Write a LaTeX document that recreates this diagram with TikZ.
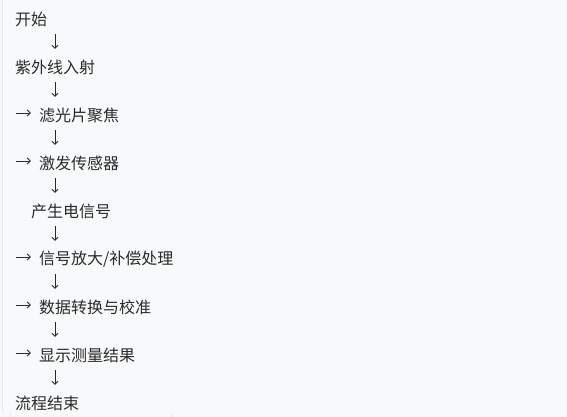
\documentclass[tikz,border=0pt]{standalone}
\usepackage{fontspec}
\newfontfamily\cjk{Noto Sans CJK SC}
\usetikzlibrary{arrows.meta}
\definecolor{bg}{HTML}{F8F9FA}
\definecolor{ink}{HTML}{2A2A2A}
\definecolor{edge}{HTML}{E4E6E8}
\tikzset{
  steptext/.style={anchor=west, inner sep=0pt, text=ink, font=\cjk\fontsize{16pt}{18pt}\selectfont},
  flowarrow/.style={draw=ink, line width=0.9pt, -{Straight Barb[length=3.2pt,width=6pt]}},
}
\begin{document}
\begin{tikzpicture}[x=1pt,y=-1pt]
\fill[bg] (0,0) rectangle (567,417);
\useasboundingbox (0,0) rectangle (567,417);
\draw[edge, line width=1pt] (2.5,0) -- (2.5,411);
\draw[edge, line width=0.8pt] (10,414) -- (10,417);
\draw[edge, line width=0.8pt] (172,414) -- (172,417);

% text lines
\node[steptext] (n1) at (15,19)  {开始};
\node[steptext] (n2) at (15,67)  {紫外线入射};
\node[steptext] (n3) at (39,115) {滤光片聚焦};
\node[steptext] (n4) at (39,163) {激发传感器};
\node[steptext] (n5) at (31,211) {产生电信号};
\node[steptext] (n6) at (39,259) {信号放大/补偿处理};
\node[steptext] (n7) at (39,307) {数据转换与校准};
\node[steptext] (n8) at (39,355) {显示测量结果};
\node[steptext] (n9) at (15,403) {流程结束};

% down arrows
\foreach \i/\y in {1/34,2/82,3/130,4/178,5/226,6/274,7/322,8/370}{
  \coordinate (d\i s) at (55,\y);
  \coordinate (d\i e) at (55,\y+15);
  \draw[flowarrow] (d\i s) -- (d\i e);
}

% side arrows
\foreach \i/\y in {3/113,4/161,6/257,7/305,8/353}{
  \coordinate (r\i s) at (16,\y);
  \coordinate (r\i e) at (31,\y);
  \draw[flowarrow] (r\i s) -- (r\i e);
}
\end{tikzpicture}
\end{document}
